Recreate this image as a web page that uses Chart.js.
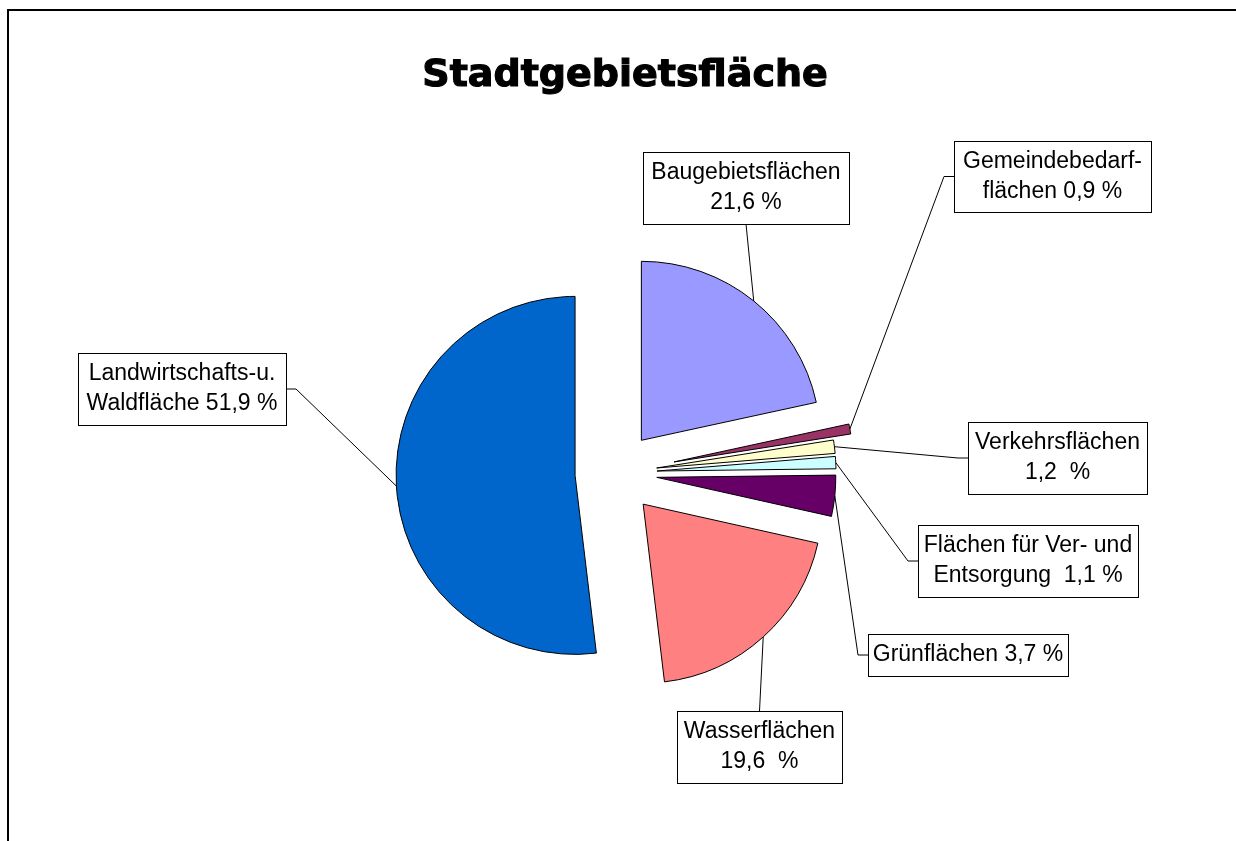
<!DOCTYPE html>
<html>
<head>
<meta charset="utf-8">
<title>Stadtgebietsfläche</title>
<script src="https://cdn.jsdelivr.net/npm/chart.js@4.4.0/dist/chart.umd.min.js"></script>
<style>
  html, body { margin: 0; padding: 0; background: #fff; overflow: hidden; }
  #frame { position: absolute; left: 7px; top: 9px; width: 1300px; height: 900px; border: 2px solid #000; box-sizing: border-box; }
  #pie { position: absolute; left: 0; top: 0; }
</style>
</head>
<body>
<div id="frame"></div>
<canvas id="pie" width="1236" height="841"></canvas>
<script>
const chartTitle = 'Stadtgebietsfläche';

const categories = [
    'Baugebietsflächen',
    'Gemeindebedarfflächen',
    'Verkehrsflächen',
    'Flächen für Ver- und Entsorgung',
    'Grünflächen',
    'Wasserflächen',
    'Landwirtschafts-u. Waldfläche'
];

// Anteil an der Stadtgebietsfläche in %
const shares = [21.6, 0.9, 1.2, 1.1, 3.7, 19.6, 51.9];

// label text as printed in the boxes
const labelLines = [
    ['Baugebietsflächen', '21,6 %'],
    ['Gemeindebedarf-', 'flächen 0,9 %'],
    ['Verkehrsflächen', '1,2  %'],
    ['Flächen für Ver- und', 'Entsorgung  1,1 %'],
    ['Grünflächen 3,7 %'],
    ['Wasserflächen', '19,6  %'],
    ['Landwirtschafts-u.', 'Waldfläche 51,9 %']
];

// styling
const sliceColors = ['#9999FF', '#993366', '#FFFFCC', '#CCFFFF', '#660066', '#FF8080', '#0066CC'];
const explode = [42, 60, 42, 42, 42, 42, 40];
// label boxes: x, y, w, h, side where the leader line leaves
const labelBoxes = [
    [643, 152, 206, 72, 'bottom'],
    [954, 141, 197, 71, 'left'],
    [968, 422, 179, 72, 'left'],
    [918, 525, 220, 72, 'left'],
    [868, 634, 200, 42, 'left'],
    [677, 711, 165, 72, 'top'],
    [78, 353, 208, 72, 'right']
];

// draws the slices pulled out from the centre, plus title and label boxes
const explodedPie = {
    id: 'explodedPie',
    beforeDatasetDraw(chart, args) {
        const ctx = chart.ctx;
        args.meta.data.forEach(function(arc, i) {
            const mid = (arc.startAngle + arc.endAngle) / 2;
            ctx.save();
            ctx.translate(Math.cos(mid) * explode[i], Math.sin(mid) * explode[i]);
            arc.draw(ctx, chart.chartArea);
            ctx.restore();
        });
        return false;
    },
    afterDraw(chart) {
        const ctx = chart.ctx;
        const arcs = chart.getDatasetMeta(0).data;

        ctx.save();
        ctx.font = 'bold 38px "DejaVu Sans"';
        ctx.textAlign = 'center';
        ctx.textBaseline = 'alphabetic';
        ctx.fillStyle = '#000';
        ctx.strokeStyle = '#000';
        ctx.lineWidth = 1.2;
        ctx.fillText(chartTitle, 625, 86);
        ctx.strokeText(chartTitle, 625, 86);
        ctx.restore();

        // leader lines
        ctx.save();
        ctx.strokeStyle = '#000';
        ctx.lineWidth = 1;
        arcs.forEach(function(arc, i) {
            const mid = (arc.startAngle + arc.endAngle) / 2;
            const r = arc.outerRadius + explode[i];
            const px = arc.x + Math.cos(mid) * r;
            const py = arc.y + Math.sin(mid) * r;
            const [bx, by, bw, bh, side] = labelBoxes[i];
            ctx.beginPath();
            if (side === 'left') {
                ctx.moveTo(bx, by + bh / 2);
                ctx.lineTo(bx - 10, by + bh / 2);
            } else if (side === 'right') {
                ctx.moveTo(bx + bw, by + bh / 2);
                ctx.lineTo(bx + bw + 10, by + bh / 2);
            } else if (side === 'top') {
                ctx.moveTo(bx + bw / 2, by);
            } else {
                ctx.moveTo(bx + bw / 2, by + bh);
            }
            ctx.lineTo(px, py);
            ctx.stroke();
        });
        ctx.restore();

        // label boxes
        ctx.save();
        ctx.font = '23px "Liberation Sans", Arial, sans-serif';
        ctx.textAlign = 'center';
        ctx.textBaseline = 'middle';
        labelBoxes.forEach(function(box, i) {
            const [bx, by, bw, bh] = box;
            ctx.fillStyle = '#fff';
            ctx.fillRect(bx, by, bw, bh);
            ctx.strokeStyle = '#000';
            ctx.lineWidth = 1;
            ctx.strokeRect(bx + 0.5, by + 0.5, bw, bh);
            ctx.fillStyle = '#000';
            const lines = labelLines[i];
            const cy = by + bh / 2;
            lines.forEach(function(line, k) {
                ctx.fillText(line, bx + bw / 2, cy + (k - (lines.length - 1) / 2) * 30);
            });
        });
        ctx.restore();
    }
};

new Chart(document.getElementById('pie'), {
    type: 'pie',
    data: {
        labels: categories,
        datasets: [{
            data: shares,
            backgroundColor: sliceColors,
            borderColor: '#000',
            borderWidth: 1,
            hoverOffset: 0
        }]
    },
    options: {
        responsive: false,
        animation: false,
        events: [],
        radius: 179,
        layout: { padding: { left: 0, right: 6, top: 105, bottom: 0 } },
        plugins: {
            legend: { display: false },
            tooltip: { enabled: false },
            title: { display: false }
        }
    },
    plugins: [explodedPie]
});
</script>
</body>
</html>
